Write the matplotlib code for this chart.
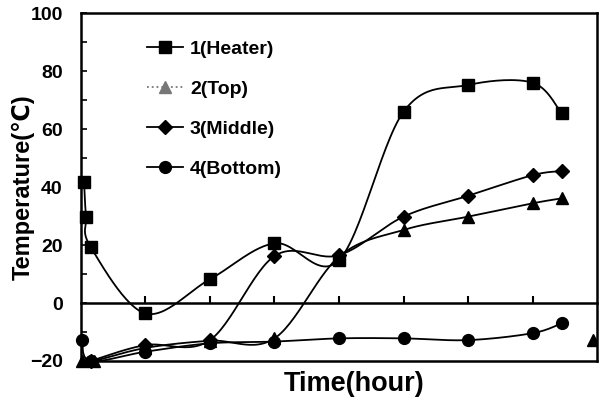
import numpy as np
import matplotlib.pyplot as plt
from matplotlib.lines import Line2D

plt.rcParams['font.family'] = ['Liberation Sans', 'DejaVu Sans']
plt.rcParams['font.weight'] = 'bold'

# values (x in hours, ticks have no labels)
heater_x = [0.05, 0.08, 0.15, 1, 2, 3, 4, 5, 6, 7, 7.45]
heater_y = [41.8, 29.8, 19.4, -3.6, 8.2, 20.6, 14.8, 66.0, 75.2, 76.0, 65.4]

top_x = [0.02, 0.2, 1, 2, 3, 4, 5, 6, 7, 7.45]
top_y = [-20.0, -20.0, -15.5, -13.0, -12.2, 16.0, 25.2, 29.8, 34.4, 36.1]
stray_top_x = [7.94]
stray_top_y = [-12.8]

middle_x = [0.15, 1, 2, 3, 4, 5, 6, 7, 7.45]
middle_y = [-20.0, -14.5, -12.8, 16.2, 16.5, 29.8, 37.0, 44.1, 45.5]

bottom_x = [0.02, 0.15, 1, 2, 3, 4, 5, 6, 7, 7.45]
bottom_y = [-12.8, -20.0, -16.8, -13.9, -13.3, -12.2, -12.2, -12.8, -10.4, -7.0]

labels = ['1(Heater)', '2(Top)', '3(Middle)', '4(Bottom)']


def smooth(xs, ys, n=30):
    # excel-like smoothed line: bezier segments with 1/6 neighbour tangents
    p = np.column_stack([xs, ys]).astype(float)
    ext = np.vstack([p[0], p, p[-1]])
    t = np.linspace(0, 1, n)[:, None]
    out = []
    for i in range(len(p) - 1):
        p0, p1, p2, p3 = ext[i], ext[i + 1], ext[i + 2], ext[i + 3]
        c1 = p1 + (p2 - p0) / 6
        c2 = p2 - (p3 - p1) / 6
        seg = ((1 - t) ** 3) * p1 + 3 * ((1 - t) ** 2) * t * c1 + 3 * (1 - t) * t ** 2 * c2 + t ** 3 * p2
        out.append(seg)
    out = np.vstack(out)
    return out[:, 0], out[:, 1]


fig, ax = plt.subplots(figsize=(5.99, 3.98), dpi=100)
fig.subplots_adjust(left=0.135, right=0.997, top=0.967, bottom=0.093)

series = [
    (heater_x, heater_y, 's', 9, 'black', 'black'),
    (top_x, top_y, '^', 8, 'black', 'black'),
    (middle_x, middle_y, 'D', 7, 'black', 'black'),
    (bottom_x, bottom_y, 'o', 8.5, 'black', 'black'),
]
for xs, ys, m, ms, lc, mc in series:
    sx, sy = smooth(xs, ys)
    ax.plot(sx, sy, color=lc, lw=1.3, clip_on=False, zorder=3)
    ax.plot(xs, ys, ls='none', marker=m, ms=ms, color=mc, clip_on=False, zorder=4)

ax.plot(stray_top_x, stray_top_y, ls='none', marker='^', ms=8, color='black', zorder=4)

ax.set_xlim(0, 8)
ax.set_ylim(-20, 100)

ax.spines['bottom'].set_position(('data', 0))
for s in ax.spines.values():
    s.set_linewidth(1.8)
ax.axhline(-20, color='black', lw=1.8, clip_on=False, zorder=5)

ax.set_xticks(range(1, 8))
ax.set_xticklabels([])
ax.tick_params(axis='x', direction='in', length=5, width=1.5)
ax.set_yticks(range(-20, 101, 20))
ax.set_yticks(range(-10, 100, 20), minor=True)
ax.tick_params(axis='y', which='both', direction='in', length=4, width=1.2,
               labelsize=14, pad=13)
for lab in ax.get_yticklabels():
    lab.set_fontweight('bold')

ax.set_ylabel('Temperature(℃)', fontsize=17, fontweight='bold')
ax.yaxis.set_label_coords(-0.089, 0.5)
ax.text(4.23, -23.3, 'Time(hour)', ha='center', va='top', fontsize=19.5, fontweight='bold')

handles = [
    Line2D([], [], color='black', lw=1.3, marker='s', ms=9),
    Line2D([], [], color='#777777', lw=1.3, ls=':', marker='^', ms=8),
    Line2D([], [], color='black', lw=1.3, marker='D', ms=7),
    Line2D([], [], color='black', lw=1.3, marker='o', ms=8.5),
]
ax.legend(handles, labels, loc='upper left', bbox_to_anchor=(0.128, 0.922), frameon=False,
          prop={'weight': 'bold', 'size': 14}, handlelength=1.85, labelspacing=1.15,
          handletextpad=0.36, borderpad=0, borderaxespad=0)

fig.savefig('out.png', dpi=100)
